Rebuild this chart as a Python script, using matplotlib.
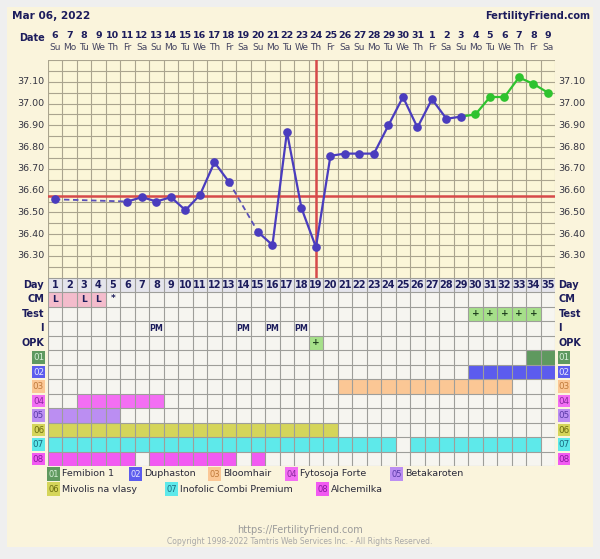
import numpy as np
import matplotlib
matplotlib.use('Agg')
import matplotlib.pyplot as plt
from matplotlib.patches import Rectangle

# 차트 데이터
cycle_days = list(range(1, 36))
dates = [6, 7, 8, 9, 10, 11, 12, 13, 14, 15, 16, 17, 18, 19, 20, 21, 22, 23, 24, 25,
         26, 27, 28, 29, 30, 31, 1, 2, 3, 4, 5, 6, 7, 8, 9]
weekdays = ['Su', 'Mo', 'Tu', 'We', 'Th', 'Fr', 'Sa'] * 5
temps = [36.56, None, None, None, None, 36.55, 36.57, 36.55, 36.57, 36.51,
         36.58, 36.73, 36.64, None, 36.41, 36.35, 36.87, 36.52, 36.34, 36.76,
         36.77, 36.77, 36.77, 36.90, 37.03, 36.89, 37.02, 36.93, 36.94, 36.95,
         37.03, 37.03, 37.12, 37.09, 37.05]
green_from = 30          # 이 날부터 초록색
coverline = 36.575
ovulation_day = 19
temp_ticks = [36.30, 36.40, 36.50, 36.60, 36.70, 36.80, 36.90, 37.00, 37.10]

cm_marks = {1: 'L', 2: '', 3: 'L', 4: 'L'}
cm_star = [5]
test_plus = [30, 31, 32, 33, 34]
opk_plus = [19]
intercourse = [8, 14, 16, 18]

med_names = ['Femibion 1', 'Duphaston', 'Bloomhair', 'Fytosoja Forte', 'Betakaroten',
             'Mivolis na vlasy', 'Inofolic Combi Premium', 'Alchemilka']
med_days = [
    [34, 35],
    list(range(30, 36)),
    list(range(21, 33)),
    list(range(3, 9)),
    list(range(1, 6)),
    list(range(1, 21)),
    list(range(1, 25)) + list(range(26, 35)),
    list(range(1, 7)) + list(range(8, 14)) + [15],
]
med_colors = ['#5f995f', '#5c5cee', '#fbc795', '#f36ef3', '#bb8ef2',
              '#d5d55a', '#5ee9ea', '#f25af2']
med_text = ['#d8f0d8', '#e8e8ff', '#c07a3a', '#8a2aa0', '#5a3aa8',
            '#6a6a10', '#1a6a80', '#8a1aa0']

NAVY = '#1c1c5c'
LINE_BLUE = '#4a3cbe'
LINE_GREEN = '#2ec32e'
RED = '#d64a4a'

W, H = 600, 559
fig = plt.figure(figsize=(W / 100, H / 100), dpi=100)
fig.patch.set_facecolor('#efefef')


def fx(px):
    return px / W


def fy(py):
    return 1 - py / H


# 바깥 크림색 패널
fig.patches.append(Rectangle((fx(7), fy(547)), fx(586), 540 / H, transform=fig.transFigure,
                             facecolor='#faf4dc', edgecolor='none', zorder=-5))

COL = 14.5
X0 = 47.7
X1 = X0 + 35 * COL
T_TOP, T_BOT = 60, 277.7
ROW = 14.5

# 1. 기초체온 차트
ax = fig.add_axes([fx(X0), fy(T_BOT), (X1 - X0) / W, (T_BOT - T_TOP) / H])
ax.set_facecolor('#fbf6d8')
ax.set_xlim(0.5, 35.5)
ax.set_ylim(36.20, 37.20)
for x in np.arange(0.5, 35.6, 1):
    ax.axvline(x, color='#aaa48e', lw=0.8, zorder=1)
for y in np.arange(36.20, 37.21, 0.05):
    ax.axhline(y, color='#aaa48e', lw=0.8, zorder=1)
for s in ax.spines.values():
    s.set_visible(False)
ax.set_xticks([])
ax.set_yticks([])

ax.axhline(coverline, color=RED, lw=1.8, zorder=3)
ax.axvline(ovulation_day, color=RED, lw=1.8, zorder=3)

d = np.array(cycle_days, dtype=float)
t = np.array([np.nan if v is None else v for v in temps])
blue = d < green_from
tb = np.where(blue, t, np.nan)
ax.plot(d, tb, color=LINE_BLUE, lw=1.6, zorder=4)
# 빈 날은 점선으로 연결
valid = np.where(~np.isnan(tb))[0]
for a, b in zip(valid[:-1], valid[1:]):
    if b - a > 1:
        ax.plot([d[a], d[b]], [t[a], t[b]], color='#5a50b8', lw=1.3, ls=(0, (3, 2)), zorder=4)
ax.plot(d[blue], t[blue], 'o', color=LINE_BLUE, ms=5.2, zorder=5)
g = d >= green_from - 1
ax.plot(d[g], t[g], color=LINE_GREEN, lw=1.6, zorder=4)
ax.plot(d[d >= green_from], t[d >= green_from], 'o', color=LINE_GREEN, ms=5.2, zorder=5)

for v in temp_ticks:
    ax.text(0.5 - 0.25, v, f'{v:.2f}', ha='right', va='center', fontsize=6.8,
            color='#333340', clip_on=False)
    ax.text(35.5 + 0.2, v, f'{v:.2f}', ha='left', va='center', fontsize=6.8,
            color='#333340', clip_on=False)

# 날짜 헤더
for day, dt, wd in zip(cycle_days, dates, weekdays):
    fig.text(fx(X0 + (day - 0.5) * COL), fy(35), str(dt), ha='center', va='center',
             fontsize=6.8, fontweight='bold', color=NAVY)
    fig.text(fx(X0 + (day - 0.5) * COL), fy(48), wd, ha='center', va='center',
             fontsize=6.5, color='#444460')
fig.text(fx(45), fy(38), 'Date', ha='right', va='center', fontsize=7,
         fontweight='bold', color=NAVY)
fig.text(fx(12), fy(16), 'Mar 06, 2022', ha='left', va='center', fontsize=7.6,
         fontweight='bold', color=NAVY)
fig.text(fx(590), fy(16), 'FertilityFriend.com', ha='right', va='center', fontsize=7,
         fontweight='bold', color=NAVY)

# 2. 하단 표
n_rows = 13
tab = fig.add_axes([fx(X0), fy(T_BOT + n_rows * ROW), (X1 - X0) / W, n_rows * ROW / H])
tab.set_xlim(0.5, 35.5)
tab.set_ylim(n_rows, 0)
tab.set_facecolor('#f6f5f0')
for s in tab.spines.values():
    s.set_visible(False)
tab.set_xticks([])
tab.set_yticks([])


def cell(day, row, color):
    tab.add_patch(Rectangle((day - 0.5, row), 1, 1, facecolor=color, edgecolor='none', zorder=1))


for day in cycle_days:
    cell(day, 0, '#e5e5ec')
    tab.text(day, 0.5, str(day), ha='center', va='center', fontsize=7,
             fontweight='bold', color=NAVY, zorder=3)
for day, mk in cm_marks.items():
    cell(day, 1, '#f4bccc')
    tab.text(day, 1.5, mk, ha='center', va='center', fontsize=6.5,
             fontweight='bold', color=NAVY, zorder=3)
for day in cm_star:
    tab.text(day, 1.45, '*', ha='center', va='center', fontsize=6.5,
             fontweight='bold', color=NAVY, zorder=3)
for day in test_plus:
    cell(day, 2, '#a6e08a')
    tab.text(day, 2.5, '+', ha='center', va='center', fontsize=6.5,
             fontweight='bold', color='#1c3c1c', zorder=3)
for day in intercourse:
    tab.text(day, 3.5, 'PM', ha='center', va='center', fontsize=5.8,
             fontweight='bold', color=NAVY, zorder=3)
for day in opk_plus:
    cell(day, 4, '#a6e08a')
    tab.text(day, 4.5, '+', ha='center', va='center', fontsize=6.5,
             fontweight='bold', color='#1c3c1c', zorder=3)
for i, days in enumerate(med_days):
    for day in days:
        cell(day, 5 + i, med_colors[i])

for x in np.arange(0.5, 35.6, 1):
    tab.plot([x, x], [0, n_rows], color='#9e9e9a', lw=0.8, zorder=2)
for y in range(n_rows + 1):
    tab.plot([0.5, 35.5], [y, y], color='#9e9e9a', lw=0.8, zorder=2)

row_labels = ['Day', 'CM', 'Test', 'I', 'OPK']
for r, lab in enumerate(row_labels):
    tab.text(0.25, r + 0.5, lab, ha='right', va='center', fontsize=7,
             fontweight='bold', color=NAVY, clip_on=False)
    tab.text(35.72, r + 0.5, lab, ha='left', va='center', fontsize=7,
             fontweight='bold', color=NAVY, clip_on=False)
for i in range(8):
    r = 5 + i
    code = f'{i + 1:02d}'
    tab.add_patch(Rectangle((0.5 - 15.5 / COL, r + 0.08), 12.5 / COL, 0.84, facecolor=med_colors[i],
                            edgecolor='none', clip_on=False))
    tab.text(0.5 - 9.25 / COL, r + 0.52, code, ha='center', va='center', fontsize=6.3,
             color=med_text[i], clip_on=False)
    tab.add_patch(Rectangle((35.5 + 2.3 / COL, r + 0.08), 12 / COL, 0.84, facecolor=med_colors[i],
                            edgecolor='none', clip_on=False))
    tab.text(35.5 + 8.3 / COL, r + 0.52, code, ha='center', va='center', fontsize=6.3,
             color=med_text[i], clip_on=False)

# 3. 범례
legend_pos = [(47, 474), (129, 474), (208, 474), (285, 474), (390, 474),
              (47, 489), (165, 489), (316, 489)]
for i, (px, py) in enumerate(legend_pos):
    fig.patches.append(Rectangle((fx(px), fy(py + 7)), 13 / W, 14 / H, transform=fig.transFigure,
                                 facecolor=med_colors[i], edgecolor='none', zorder=2))
    fig.text(fx(px + 6.5), fy(py + 0.5), f'{i + 1:02d}', ha='center', va='center',
             fontsize=6, color=med_text[i], zorder=3)
    fig.text(fx(px + 15), fy(py), med_names[i], ha='left', va='center',
             fontsize=6.8, color='#2a2a3a', zorder=3)

# 4. 하단 저작권
fig.text(0.5, fy(530), 'https://FertilityFriend.com', ha='center', va='center',
         fontsize=7, color='#9a9a9a')
fig.text(0.5, fy(542), 'Copyright 1998-2022 Tamtris Web Services Inc. - All Rights Reserved.',
         ha='center', va='center', fontsize=5.5, color='#a8a8a8')

fig.savefig('out.png', dpi=100, facecolor=fig.get_facecolor())
